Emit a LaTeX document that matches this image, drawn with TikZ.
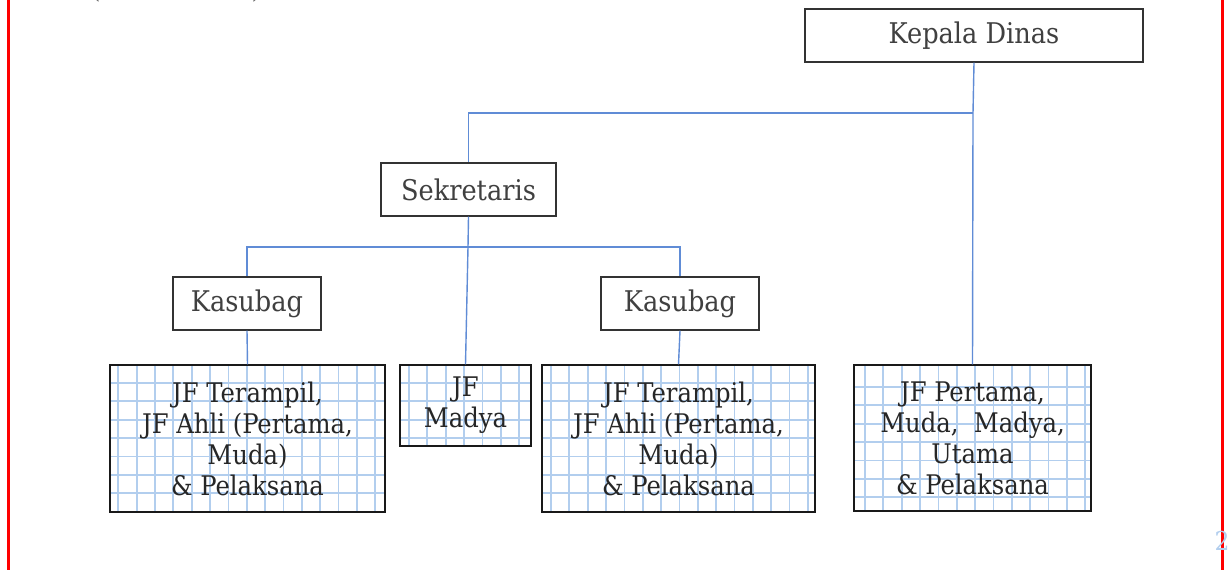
\documentclass[tikz,border=0pt]{standalone}
\usepackage{fontspec}
\setmainfont{DejaVu Serif Condensed}
\definecolor{conn}{RGB}{96,140,214}
\definecolor{gridblue}{RGB}{178,206,238}
\definecolor{edge}{RGB}{255,0,0}
\newcommand\gridfill[6]{% x1 y1 x2 y2 first-x first-y, cell 18.35
  \pgfmathsetmacro\gxs{#5+18.35}\pgfmathsetmacro\gys{#6+18.35}
  \foreach \gx in {#5,\gxs,...,#3} {\ifdim\gx pt<#3pt \draw[gridline] (\gx,#2) -- (\gx,#4);\fi}
  \foreach \gy in {#6,\gys,...,#4} {\ifdim\gy pt<#4pt \draw[gridline] (#1,\gy) -- (#3,\gy);\fi}
}
\begin{document}
\begin{tikzpicture}[x=1pt,y=-1pt,
  gridline/.style={draw=gridblue,line width=1.8pt},
  title/.style={draw=black!80,line width=1.1pt,inner sep=0pt,font=\fontsize{28.5}{32}\selectfont,text=black!75},
  jfbox/.style={draw=black!90,line width=1.2pt,inner sep=0pt,align=center,font=\fontsize{27}{31}\selectfont,text=black!85},
  link/.style={draw=conn,line width=1.4pt},
  rim/.style={draw=edge,line width=3pt}
]
\useasboundingbox (0,0) rectangle (1228,570);
\fill[white] (0,0) rectangle (1228,570);

% page edges and stray marks
\draw[rim] (8,0) -- (8,570);
\draw[rim] (1222,0) -- (1222,570);
\node[text=black!60,font=\fontsize{24}{24}\selectfont] (lp) at (96,-9) {(};
\node[text=black!60,font=\fontsize{24}{24}\selectfont] (rp) at (256,-9) {)};
\node[text=gridblue,font=\fontsize{26}{26}\selectfont] (pg) at (1222,541) {2};

% squared paper inside the lower boxes
\gridfill{110}{365}{385}{512}{118.3}{383}
\gridfill{400}{365}{531}{446}{409}{383}
\gridfill{542}{365}{815}{512}{551}{383}
\gridfill{854}{365}{1091}{511}{865}{387}

% upper boxes
\node[title,minimum width=338pt,minimum height=53pt] (kd) at (974,35.5) {Kepala Dinas};
\node[title,minimum width=175pt,minimum height=53pt] (sek) at (468.5,189.5) {Sekretaris};
\node[title,minimum width=148pt,minimum height=53pt] (ks1) at (247,303.5) {Kasubag};
\node[title,minimum width=158pt,minimum height=53pt] (ks2) at (680,303.5) {Kasubag};

% lower boxes
\node[jfbox,minimum width=275pt,minimum height=147pt] (b1) at (247.5,438.5)
  {JF Terampil,\\JF Ahli (Pertama,\\Muda)\\\& Pelaksana};
\node[jfbox,minimum width=131pt,minimum height=81pt] (jfm) at (465.5,405.5)
  {JF\\Madya};
\node[jfbox,minimum width=273pt,minimum height=147pt] (b3) at (678.5,438.5)
  {JF Terampil,\\JF Ahli (Pertama,\\Muda)\\\& Pelaksana};
\node[jfbox,minimum width=237pt,minimum height=146pt] (b4) at (972.5,438)
  {JF Pertama,\\Muda,\ \ Madya,\\Utama\\\& Pelaksana};

% connectors
\coordinate (j1) at (973,113);
\coordinate (j2) at (468,247);
\draw[link] (kd.south) -- (j1) -- (b4.north);
\draw[link] (j1) -| (sek.north);
\draw[link] (sek.south) -- (j2) -- (jfm.north);
\draw[link] (j2) -| (ks1.north);
\draw[link] (j2) -| (ks2.north);
\draw[link] (ks1.south) -- (b1.north);
\draw[link] (ks2.south) -- (b3.north);
\end{tikzpicture}
\end{document}
